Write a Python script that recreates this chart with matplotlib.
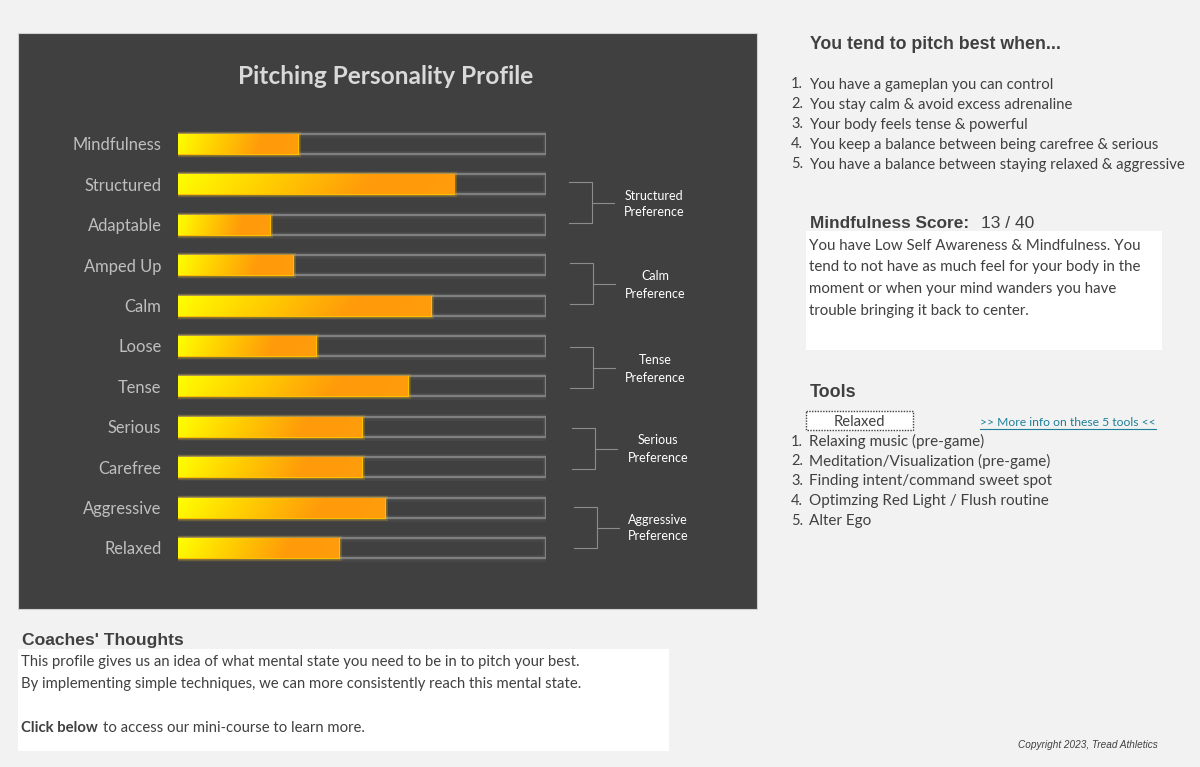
import numpy as np
import matplotlib
matplotlib.use("Agg")
import matplotlib.pyplot as plt
import matplotlib.patheffects as pe
from matplotlib.colors import LinearSegmentedColormap
from matplotlib.patches import Rectangle

traits = ["Mindfulness", "Structured", "Adaptable", "Amped Up", "Calm", "Loose",
          "Tense", "Serious", "Carefree", "Aggressive", "Relaxed"]
scores = [13, 30, 10, 12.5, 27.5, 15, 25, 20, 20, 22.5, 17.5]
max_score = 40

preferences = ["Structured", "Calm", "Tense", "Serious", "Aggressive"]

best_when = ["You have a gameplan you can control",
             "You stay calm & avoid excess adrenaline",
             "Your body feels tense & powerful",
             "You keep a balance between being carefree & serious",
             "You have a balance between staying relaxed & aggressive"]

mind_text = ["You have Low Self Awareness & Mindfulness. You",
             "tend to not have as much feel for your body in the",
             "moment or when your mind wanders you have",
             "trouble bringing it back to center."]

tools = ["Relaxing music (pre-game)",
         "Meditation/Visualization (pre-game)",
         "Finding intent/command sweet spot",
         "Optimzing Red Light / Flush routine",
         "Alter Ego"]

coach_lines = ["This profile gives us an idea of what mental state you need to be in to pitch your best.",
               "By implementing simple techniques, we can more consistently reach this mental state."]

W, H = 1200, 767
BODY = "Lato"
HEAD = "Liberation Sans"
TXT = "#404040"

fig = plt.figure(figsize=(W / 100, H / 100), dpi=100, facecolor="#f2f2f2")

# page layer in pixel coordinates
page = fig.add_axes([0, 0, 1, 1], zorder=0)
page.set_xlim(0, W)
page.set_ylim(H, 0)
page.axis("off")

page.add_patch(Rectangle((18, 33), 739, 576, fc="#404040", ec="#d0d0d0", lw=0.8))
page.add_patch(Rectangle((806, 231), 356, 119, fc="white", ec="none"))
page.add_patch(Rectangle((18, 649), 651, 102, fc="white", ec="none"))
page.add_patch(Rectangle((806, 411), 107, 19, fc="white", ec="#404040", lw=1, ls=(0, (1, 1))))

page.text(386, 76, "Pitching Personality Profile", color="#d9d9d9", fontsize=17.55,
          fontweight="bold", family=BODY, ha="center", va="center")

# brackets + preference labels
bracket_x = [569, 570, 570, 572, 574]
bracket_top = [182, 263, 347, 428, 507]
label_x = [654, 655, 655, 658, 658]
label_y = [203.5, 284.5, 368.5, 448.5, 527.5]
for p, bx, top, lx, ly in zip(preferences, bracket_x, bracket_top, label_x, label_y):
    bot = top + 41
    mid = (top + bot) / 2
    page.plot([bx, bx + 23, bx + 23, bx], [top, top, bot, bot], color="#8c8c8c", lw=0.8)
    page.plot([bx + 23, bx + 45], [mid, mid], color="#8c8c8c", lw=0.8)
    page.text(lx, ly - 8, p, color="white", fontsize=9, family=BODY, ha="center", va="center")
    page.text(lx, ly + 9, "Preference", color="white", fontsize=9, family=BODY, ha="center", va="center")

# right column
page.text(810, 44.5, "You tend to pitch best when...", color=TXT, fontsize=12.8,
          fontweight="bold", family=HEAD, va="center")
for i, line in enumerate(best_when):
    y = 84.5 + i * 20
    page.text(803, y, f"{i + 1}.", color=TXT, fontsize=10.5, family=BODY, ha="right", va="center")
    page.text(809, y, line, color=TXT, fontsize=10.7, family=BODY, va="center")

page.text(810, 223, "Mindfulness Score:", color=TXT, fontsize=12.4, fontweight="bold",
          family=HEAD, va="center")
page.text(981, 223, f"{scores[0]} / {max_score}", color=TXT, fontsize=12.5, family=HEAD, va="center")
for i, line in enumerate(mind_text):
    page.text(809, 245.5 + i * 22, line, color=TXT, fontsize=10.85, family=BODY, va="center")

page.text(810, 392.5, "Tools", color=TXT, fontsize=12.85, fontweight="bold", family=HEAD, va="center")
page.text(859.5, 421.5, "Relaxed", color=TXT, fontsize=10.6, family=BODY, ha="center", va="center")
page.text(980, 422, ">> More info on these 5 tools <<", color="#1f7f99", fontsize=8.7,
          family=BODY, va="center")
page.plot([980, 1156], [428.5, 428.5], color="#1f7f99", lw=0.8)
for i, line in enumerate(tools):
    y = 441.5 + i * 19.8
    page.text(803, y, f"{i + 1}.", color=TXT, fontsize=10.5, family=BODY, ha="right", va="center")
    page.text(809, y, line, color=TXT, fontsize=11, family=BODY, va="center")

# coaches box
page.text(22, 641, "Coaches' Thoughts", color=TXT, fontsize=12.6, fontweight="bold",
          family=HEAD, va="center")
for i, line in enumerate(coach_lines):
    page.text(21, 662 + i * 22, line, color=TXT, fontsize=10.75, family=BODY, va="center")
page.text(21, 728, "Click below", color=TXT, fontsize=10.75, fontweight="bold", family=BODY, va="center")
page.text(103, 728, "to access our mini-course to learn more.", color=TXT, fontsize=10.75,
          family=BODY, va="center")
page.text(1158, 745, "Copyright 2023, Tread Athletics", color=TXT, fontsize=7.2,
          style="italic", family=HEAD, ha="right", va="center")

# chart layer: x 178-546 px is 0-40
top_px, step = 144, 40.4
y0 = top_px - step / 2
y1 = top_px + step * (len(traits) - 0.5)
ax = fig.add_axes([178 / W, 1 - y1 / H, 368 / W, (y1 - y0) / H], zorder=1)
ax.patch.set_alpha(0)
for s in ax.spines.values():
    s.set_visible(False)

ypos = np.arange(len(traits))
bar_h = 0.5
glow = [pe.Stroke(linewidth=5, foreground="#ffffff", alpha=0.04),
        pe.Stroke(linewidth=3, foreground="#ffffff", alpha=0.06),
        pe.Normal()]
ax.barh(ypos, [max_score] * len(traits), height=bar_h, facecolor="none",
        edgecolor="#858585", linewidth=1.3, path_effects=glow, zorder=2)

# slightly diagonal fade, yellow into orange
cmap = LinearSegmentedColormap.from_list("bar", [(0, "#ffff00"), (0.3, "#ffd200"), (0.68, "#ff9a0a"), (1, "#ff9d0d")])
gx, gy = np.meshgrid(np.linspace(0, 1, 256), np.linspace(0, 1, 24))
grad = np.clip(gx * 0.94 + gy * 0.06, 0, 1)
bars = ax.barh(ypos, scores, height=bar_h, facecolor="#ffb000", edgecolor="#ffc000", linewidth=0.9,
               path_effects=[pe.Stroke(linewidth=3.5, foreground="#ffc000", alpha=0.22), pe.Normal()], zorder=3)
for b, v in zip(bars, scores):
    im = ax.imshow(grad, extent=(0, v, b.get_y() + b.get_height(), b.get_y()), cmap=cmap,
                   aspect="auto", zorder=4)
    im.set_clip_path(b)

ax.set_xlim(0, max_score)
ax.set_ylim(len(traits) - 0.5, -0.5)
ax.set_xticks([])
ax.set_yticks(ypos, traits)
ax.tick_params(axis="y", length=0, pad=12, labelsize=11.9, labelcolor="#bfbfbf")
for lab in ax.get_yticklabels():
    lab.set_family(BODY)

fig.savefig("out.png", dpi=100, facecolor=fig.get_facecolor())
